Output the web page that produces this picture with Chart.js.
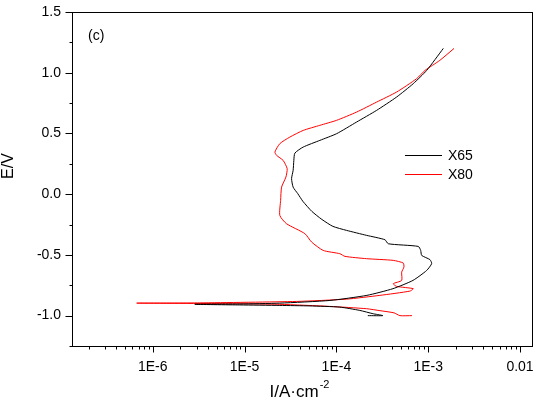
<!DOCTYPE html>
<html><head><meta charset="utf-8">
<script src="https://cdn.jsdelivr.net/npm/chart.js@4.4.0/dist/chart.umd.min.js"></script>
<style>html,body{margin:0;padding:0;background:#fff}#wrap{width:540px;height:404px}</style>
</head><body><div id="wrap"><canvas id="c" width="540" height="404"></canvas></div>
<script>
const seriesNames = ['X65', 'X80'];
const seriesColors = ['#000000', '#ff0000'];
const x65Current = [2.20e-4, 3.21e-4, 2.50e-4, 1.80e-4, 1.09e-4, 5.14e-5, 2.42e-5, 8.87e-6, 2.87e-6, 8.87e-6, 2.42e-5, 8.49e-5, 2.15e-4, 4.13e-4, 6.82e-4, 9.62e-4, 1.09e-3, 1.045e-3, 8.49e-4, 8.28e-4, 7.80e-4, 3.67e-4, 3.38e-4, 2.13e-4, 1.29e-4, 9.16e-5, 6.95e-5, 5.41e-5, 4.32e-5, 3.80e-5, 3.38e-5, 3.25e-5, 3.38e-5, 3.44e-5, 3.53e-5, 4.35e-5, 6.61e-5, 1.005e-4, 1.66e-4, 2.74e-4, 4.53e-4, 6.87e-4, 9.62e-4, 1.46e-3];
const x65Potential = [-1.0, -1.0, -0.984, -0.957, -0.930, -0.920, -0.916, -0.912, -0.907, -0.904, -0.897, -0.875, -0.833, -0.778, -0.710, -0.628, -0.572, -0.539, -0.504, -0.463, -0.430, -0.408, -0.375, -0.339, -0.298, -0.265, -0.208, -0.142, -0.059, 0.004, 0.058, 0.128, 0.196, 0.278, 0.338, 0.388, 0.443, 0.498, 0.594, 0.690, 0.800, 0.910, 1.019, 1.2];
const x80Current = [6.65e-4, 4.92e-4, 4.24e-4, 2.98e-4, 2.13e-4, 8.49e-5, 2.42e-5, 5.37e-6, 6.69e-7, 3.25e-6, 3.68e-5, 1.29e-4, 2.98e-4, 6.32e-4, 6.87e-4, 4.53e-4, 4.16e-4, 5.14e-4, 5.14e-4, 5.44e-4, 5.35e-4, 4.16e-4, 2.13e-4, 1.24e-4, 1.09e-4, 7.18e-5, 5.37e-5, 4.54e-5, 2.86e-5, 2.42e-5, 2.47e-5, 2.53e-5, 2.82e-5, 2.91e-5, 2.63e-5, 2.23e-5, 2.14e-5, 2.42e-5, 3.11e-5, 4.35e-5, 6.61e-5, 1.005e-4, 1.66e-4, 2.74e-4, 4.53e-4, 7.48e-4, 9.23e-4, 1.34e-3, 1.91e-3];
const x80Potential = [-1.0, -1.0, -0.977, -0.959, -0.943, -0.924, -0.907, -0.901, -0.897, -0.895, -0.883, -0.864, -0.833, -0.798, -0.778, -0.759, -0.737, -0.710, -0.642, -0.600, -0.567, -0.545, -0.531, -0.512, -0.490, -0.463, -0.394, -0.325, -0.243, -0.175, -0.051, 0.058, 0.141, 0.210, 0.278, 0.320, 0.347, 0.416, 0.470, 0.525, 0.567, 0.608, 0.676, 0.758, 0.841, 0.951, 1.019, 1.102, 1.2];

const xTickValues = [1e-6, 1e-5, 1e-4, 1e-3, 1e-2];
const xTickLabels = ['1E-6', '1E-5', '1E-4', '1E-3', '0.01'];
const yTickValues = [-1.0, -0.5, 0.0, 0.5, 1.0, 1.5];
const yTickLabels = ['-1.0', '-0.5', '0.0', '0.5', '1.0', '1.5'];
const xRange = [1.32e-7, 0.0135];
const yRange = [-1.25, 1.5];
const yMinorStep = 0.25;
const panelLabel = '(c)';
const xTitle = 'I/A·cm';
const xTitleSup = '-2';
const yTitle = 'E/V';

const FONT = "'Liberation Sans', Arial, sans-serif";

function pts(xs, ys) { return xs.map((v, i) => ({ x: v, y: ys[i] })); }

const decor = {
  id: 'decor',
  afterDraw(chart) {
    const { ctx, chartArea: a, scales: { x, y } } = chart;
    ctx.save();
    ctx.strokeStyle = '#000';
    ctx.lineWidth = 1;
    ctx.strokeRect(Math.round(a.left) + 0.5, Math.round(a.top) + 0.5, Math.round(a.right - a.left), Math.round(a.bottom - a.top));
    ctx.beginPath();
    const by = Math.round(a.bottom) + 0.5;
    for (let k = -8; k <= -1; k++) {
      for (let m = 1; m <= 9; m++) {
        const v = m * Math.pow(10, k);
        if (v < xRange[0] || v > xRange[1]) continue;
        const px = Math.round(x.getPixelForValue(v)) + 0.5;
        ctx.moveTo(px, by);
        ctx.lineTo(px, by + (m === 1 ? 6 : 3));
      }
    }
    const lx = Math.round(a.left) + 0.5;
    const n = Math.round((yRange[1] - yRange[0]) / yMinorStep);
    for (let i = 0; i <= n; i++) {
      const v = yRange[0] + i * yMinorStep;
      const major = Math.abs(v * 2 - Math.round(v * 2)) < 1e-6;
      const py = Math.round(y.getPixelForValue(v)) + 0.5;
      ctx.moveTo(lx, py);
      ctx.lineTo(lx - (major ? 7 : 3), py);
    }
    ctx.stroke();

    const lg = [[405, 155], [405, 174]];
    ctx.font = '14px ' + FONT;
    ctx.textBaseline = 'middle';
    ctx.textAlign = 'left';
    seriesNames.forEach((nm, i) => {
      ctx.strokeStyle = seriesColors[i];
      ctx.beginPath();
      ctx.moveTo(lg[i][0], lg[i][1] + 0.5);
      ctx.lineTo(lg[i][0] + 37, lg[i][1] + 0.5);
      ctx.stroke();
      ctx.fillStyle = '#000';
      ctx.fillText(nm, lg[i][0] + 43, lg[i][1] + 1);
    });
    ctx.fillText(panelLabel, 88, 36);

    ctx.font = '17px ' + FONT;
    ctx.textBaseline = 'alphabetic';
    const w1 = ctx.measureText(xTitle).width;
    ctx.font = '11px ' + FONT;
    const w2 = ctx.measureText(xTitleSup).width;
    const cx = 299;
    const sx = cx - (w1 + w2) / 2;
    ctx.font = '17px ' + FONT;
    ctx.fillText(xTitle, sx, 397);
    ctx.font = '11px ' + FONT;
    ctx.fillText(xTitleSup, sx + w1 + 1, 388);

    ctx.translate(13, 166);
    ctx.rotate(-Math.PI / 2);
    ctx.font = '16px ' + FONT;
    ctx.textAlign = 'center';
    ctx.fillText(yTitle, 0, 0);
    ctx.restore();
  }
};

new Chart(document.getElementById('c'), {
  type: 'scatter',
  data: {
    datasets: [
      { label: seriesNames[0], data: pts(x65Current, x65Potential), showLine: true, borderColor: seriesColors[0], borderWidth: 1, pointRadius: 0, tension: 0.2, fill: false },
      { label: seriesNames[1], data: pts(x80Current, x80Potential), showLine: true, borderColor: seriesColors[1], borderWidth: 1, pointRadius: 0, tension: 0.2, fill: false }
    ]
  },
  options: {
    responsive: false,
    animation: false,
    devicePixelRatio: 1,
    layout: { padding: { left: 0, right: 8, top: 12, bottom: 0 } },
    plugins: { legend: { display: false }, tooltip: { enabled: false } },
    scales: {
      x: {
        type: 'logarithmic', min: xRange[0], max: xRange[1],
        grid: { display: false, drawTicks: false },
        border: { display: false },
        afterBuildTicks: s => { s.ticks = xTickValues.map(v => ({ value: v })); },
        afterFit: s => { s.height = 58; s.paddingLeft = 0; s.paddingRight = 0; s.paddingTop = 0; s.paddingBottom = 0; },
        ticks: {
          autoSkip: false, maxRotation: 0, padding: 13, color: '#000',
          font: { family: FONT, size: 14 },
          callback: (v, i) => xTickLabels[i]
        }
      },
      y: {
        type: 'linear', min: yRange[0], max: yRange[1],
        grid: { display: false, drawTicks: false },
        border: { display: false },
        afterBuildTicks: s => { s.ticks = yTickValues.map(v => ({ value: v })); },
        afterFit: s => { s.width = 72; s.paddingLeft = 0; s.paddingRight = 0; s.paddingTop = 0; s.paddingBottom = 0; },
        ticks: {
          autoSkip: false, padding: 11, color: '#000',
          font: { family: FONT, size: 14 },
          callback: (v, i) => yTickLabels[i]
        }
      }
    }
  },
  plugins: [decor]
});
</script></body></html>
